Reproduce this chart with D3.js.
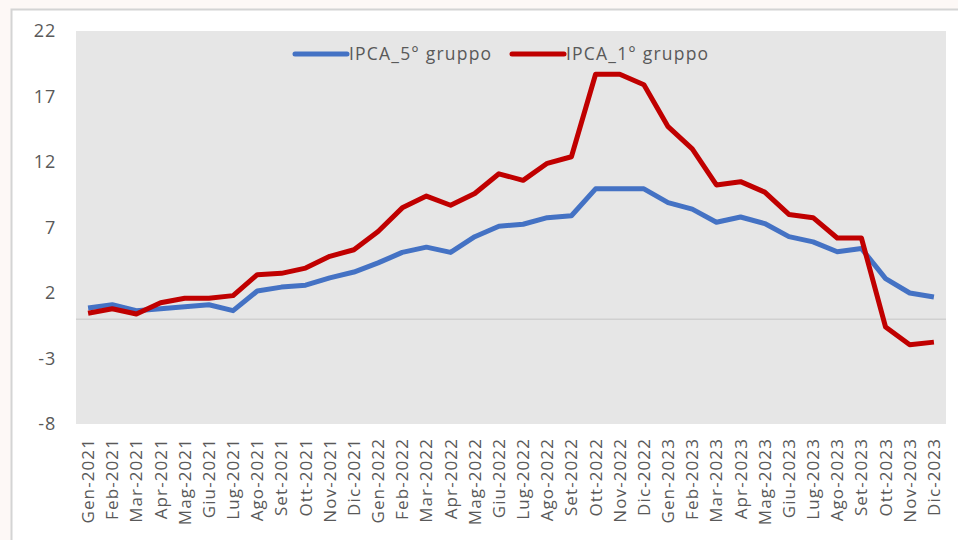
<!DOCTYPE html>
<html>
<head>
<meta charset="utf-8">
<script src="https://cdn.jsdelivr.net/npm/d3@7"></script>
<style>
  body { margin: 0; background: #fdf8f6; }
  text { font-family: "Open Sans", sans-serif; fill: #595959; }
</style>
</head>
<body>
<div id="chart"></div>
<script>
const width = 958;
const height = 540;

// Data
const months = ["Gen", "Feb", "Mar", "Apr", "Mag", "Giu", "Lug", "Ago", "Set", "Ott", "Nov", "Dic"];
const years = [2021, 2022, 2023];
const categories = years.flatMap(y => months.map(m => m + "-" + y));

const ipca5 = [0.85, 1.1, 0.65, 0.8, 0.95, 1.1, 0.65, 2.15, 2.45, 2.6, 3.15, 3.6,
               4.3, 5.1, 5.5, 5.1, 6.3, 7.1, 7.25, 7.75, 7.9, 9.95, 9.95, 9.95,
               8.9, 8.4, 7.4, 7.8, 7.3, 6.3, 5.9, 5.15, 5.4, 3.1, 2.0, 1.7];
const ipca1 = [0.45, 0.8, 0.4, 1.25, 1.6, 1.6, 1.8, 3.4, 3.5, 3.9, 4.8, 5.3,
               6.7, 8.5, 9.4, 8.7, 9.6, 11.1, 10.6, 11.9, 12.4, 18.7, 18.7, 17.9,
               14.7, 13.0, 10.25, 10.5, 9.7, 8.0, 7.75, 6.2, 6.2, -0.6, -1.95, -1.75];
const yTicks = [22, 17, 12, 7, 2, -3, -8];

const series = [
    { name: "IPCA_5° gruppo", values: ipca5, color: "#4472c4" },
    { name: "IPCA_1° gruppo", values: ipca1, color: "#c00000" }
];

const plot = { left: 76, top: 31, right: 946, bottom: 424 };

const svg = d3.select("#chart")
    .append("svg")
    .attr("width", width)
    .attr("height", height);

// chart frame
svg.append("rect")
    .attr("x", 11.5)
    .attr("y", 9.5)
    .attr("width", width)
    .attr("height", height)
    .attr("fill", "#fff")
    .attr("stroke", "#d4d4d4")
    .attr("stroke-width", 2);

// plot background
svg.append("rect")
    .attr("x", plot.left)
    .attr("y", plot.top)
    .attr("width", plot.right - plot.left)
    .attr("height", plot.bottom - plot.top)
    .attr("fill", "#e6e6e6");

const x = d3.scaleBand()
    .domain(categories)
    .range([plot.left, plot.right]);

const y = d3.scaleLinear()
    .domain([-8, 22])
    .range([plot.bottom, plot.top]);

// zero line
svg.append("line")
    .attr("x1", plot.left)
    .attr("x2", plot.right)
    .attr("y1", y(0))
    .attr("y2", y(0))
    .attr("stroke", "#d0d0d0")
    .attr("stroke-width", 1.5);

// y axis labels
const yAxis = svg.append("g")
    .attr("transform", `translate(${plot.left - 20},0)`)
    .call(d3.axisLeft(y).tickValues(yTicks).tickFormat(d => String(d)).tickSize(0).tickPadding(0));
yAxis.select(".domain").remove();
yAxis.selectAll("text")
    .attr("font-size", 18)
    .attr("letter-spacing", 0.8)
    .attr("text-anchor", "end");

// x axis labels (rotated)
const xAxis = svg.append("g")
    .attr("transform", `translate(0,${plot.bottom + 14})`)
    .call(d3.axisBottom(x).tickSize(0).tickPadding(0));
xAxis.select(".domain").remove();
xAxis.selectAll("text")
    .attr("font-size", 17)
    .attr("letter-spacing", 1.1)
    .attr("transform", "rotate(-90)")
    .attr("text-anchor", "end")
    .attr("dy", "0.35em")
    .attr("x", 0)
    .attr("y", 0);

// lines
const line = d3.line()
    .x((d, i) => x(categories[i]) + x.bandwidth() / 2)
    .y(d => y(d));

svg.selectAll(".series")
    .data(series)
    .enter()
    .append("path")
    .attr("class", "series")
    .attr("d", d => line(d.values))
    .attr("fill", "none")
    .attr("stroke", d => d.color)
    .attr("stroke-width", 5)
    .attr("stroke-linejoin", "round");

// legend
const legendPos = [295, 512];
const legend = svg.selectAll(".legend")
    .data(series)
    .enter()
    .append("g")
    .attr("class", "legend")
    .attr("transform", (d, i) => `translate(${legendPos[i]},54)`);
legend.append("line")
    .attr("x1", 0)
    .attr("x2", 52)
    .attr("stroke", d => d.color)
    .attr("stroke-width", 5)
    .attr("stroke-linecap", "round");
legend.append("text")
    .attr("x", 54)
    .attr("dy", "0.35em")
    .attr("font-size", 17.5)
    .attr("letter-spacing", 1.2)
    .text(d => d.name);
</script>
</body>
</html>
